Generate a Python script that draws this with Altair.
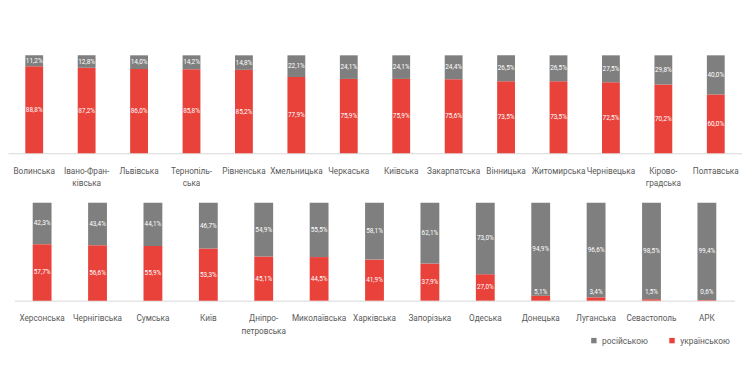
import altair as alt
import pandas as pd

FONT = "Roboto"

top_regions = ["Волинська", "Івано-Фран-|ківська", "Львівська", "Тернопіль-|ська",
               "Рівненська", "Хмельницька", "Черкаська", "Київська", "Закарпатська",
               "Вінницька", "Житомирська", "Чернівецька", "Кірово-|градська", "Полтавська"]
top_ua = [88.8, 87.2, 86.0, 85.8, 85.2, 77.9, 75.9, 75.9, 75.6, 73.5, 73.5, 72.5, 70.2, 60.0]
top_ru = [11.2, 12.8, 14.0, 14.2, 14.8, 22.1, 24.1, 24.1, 24.4, 26.5, 26.5, 27.5, 29.8, 40.0]

bottom_regions = ["Херсонська", "Чернігівська", "Сумська", "Київ", "Дніпро-|петровська",
                  "Миколаївська", "Харківська", "Запорізька", "Одеська", "Донецька",
                  "Луганська", "Севастополь", "АРК"]
bottom_ua = [57.7, 56.6, 55.9, 53.3, 45.1, 44.5, 41.9, 37.9, 27.0, 5.1, 3.4, 1.5, 0.6]
bottom_ru = [42.3, 43.4, 44.1, 46.7, 54.9, 55.5, 58.1, 62.1, 73.0, 94.9, 96.6, 98.5, 99.4]

series_names = ["російською", "українською"]
series_colors = ["#7f7f7f", "#e8423b"]


def to_long(regions, ua, ru):
    rows = []
    for r, u, q in zip(regions, ua, ru):
        rows.append({"region": r, "series": "українською", "value": u, "order": 0})
        rows.append({"region": r, "series": "російською", "value": q, "order": 1})
    return pd.DataFrame(rows)


def row_chart(regions, ua, ru, x_scale):
    df = to_long(regions, ua, ru)
    base = (
        alt.Chart(df)
        .transform_stack(stack="value", groupby=["region"], as_=["y0", "y1"],
                         sort=[alt.SortField("order", order="ascending")])
        .transform_calculate(mid="(datum.y0 + datum.y1) / 2")
        .transform_calculate(
            ly="datum.series == 'українською' ? max(datum.mid, 9) : datum.mid",
            lbl="replace(format(datum.value, '.1f'), '.', ',') + '%'",
        )
    )
    x = alt.X(
        "region:N", sort=regions, scale=x_scale,
        axis=alt.Axis(title=None, labelAngle=0, ticks=False, domainColor="#d9d9d9",
                      labelExpr="split(datum.label, '|')", labelFont=FONT,
                      labelFontSize=8.3, labelColor="#595959", labelPadding=13,
                      labelLineHeight=13, labelLimit=0, labelOverlap=False),
    )
    yscale = alt.Scale(domain=[0, 100])
    bars = base.mark_bar().encode(
        x=x,
        y=alt.Y("y0:Q", scale=yscale, axis=None),
        y2="y1:Q",
        color=alt.Color(
            "series:N",
            scale=alt.Scale(domain=series_names, range=series_colors),
            legend=alt.Legend(title=None, orient="none", legendX=588, legendY=284,
                              direction="horizontal", symbolType="square",
                              symbolSize=30, symbolStrokeWidth=0, labelFont=FONT,
                              labelFontSize=8.5, labelColor="#595959",
                              columnPadding=20, padding=0),
        ),
    )
    text = base.mark_text(font=FONT, fontSize=6.5, color="white").encode(
        x=x,
        y=alt.Y("ly:Q", scale=yscale, axis=None),
        text="lbl:N",
    )
    return alt.layer(bars, text).properties(width=742, height=99)


top = row_chart(top_regions, top_ua, top_ru,
                alt.Scale(paddingInner=0.66, paddingOuter=0.33))
bottom = row_chart(bottom_regions, bottom_ua, bottom_ru,
                   alt.Scale(paddingInner=0.66, paddingOuter=0.33, range=[6.5, 734.5]))

chart = (
    alt.vconcat(top, bottom, spacing=50, bounds="flush")
    .resolve_scale(x="independent", y="independent", color="shared")
    .properties(padding={"left": 0, "top": 46, "right": 0, "bottom": 0})
    .configure_view(stroke=None)
)

chart.save("out.html", embed_options={"renderer": "svg", "actions": False})
